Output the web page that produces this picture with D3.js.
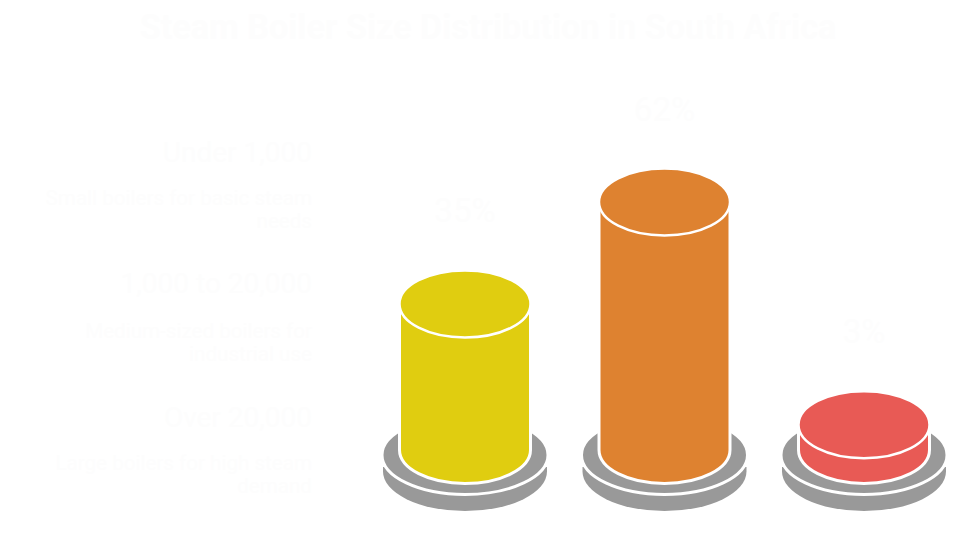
<!DOCTYPE html>
<html lang="en">
	<head>
		<meta charset="utf-8">
		<title>Steam Boiler Size Distribution in South Africa</title>
		<script type="text/javascript" src="https://cdn.jsdelivr.net/npm/d3@7"></script>
		<style type="text/css">
			html, body { margin: 0; padding: 0; background: #fff; }
			svg { display: block; }
			text { font-family: Roboto, sans-serif; fill: #fdfdfd; }
		</style>
	</head>
	<body>
		<script type="text/javascript">

			var categories = ["Under 1,000", "1,000 to 20,000", "Over 20,000"];
			var shares = [35, 62, 3];
			var colors = ["#e0cd10", "#de8230", "#e85a55"];
			var notes = [
				["Small boilers for basic steam", "needs"],
				["Medium-sized boilers for", "industrial use"],
				["Large boilers for high steam", "demand"]
			];
			var titleText = "Steam Boiler Size Distribution in South Africa";

			var w = 980;
			var h = 551;

			var rx = 65.5;
			var ry = 33.5;
			var baseY = 450;
			var discRx = 82;
			var discRy = 39.5;

			// left hand labels, the rows are not quite evenly spaced
			var labelY = d3.scaleOrdinal().domain(categories).range([162, 293, 427]);
			var noteGap = d3.scaleOrdinal().domain(categories).range([43, 45, 43]);

			var xScale = d3.scalePoint()
				.domain(categories)
				.range([465, 864]);

			var yScale = d3.scaleLinear()
				.domain([0, 62])
				.range([436, 202]);

			var svg = d3.select("body")
				.append("svg")
				.attr("width", w)
				.attr("height", h);

			svg.append("text")
				.attr("x", 488)
				.attr("y", 39)
				.attr("text-anchor", "middle")
				.attr("font-size", 34.2)
				.attr("font-weight", "bold")
				.text(titleText);

			// an upright drum: straight sides and a rounded bottom edge
			function drum(cx, top, bottom, a, b) {
				return "M" + (cx - a) + "," + top +
					"L" + (cx - a) + "," + bottom +
					"A" + a + "," + b + " 0 0 0 " + (cx + a) + "," + bottom +
					"L" + (cx + a) + "," + top + "Z";
			}

			var groups = svg.selectAll("g.boiler")
				.data(categories)
				.enter()
				.append("g")
				.attr("class", "boiler");

			// lower plate
			groups.append("path")
				.attr("d", function(d) { return drum(xScale(d), 467, 471.5, discRx, discRy); })
				.attr("fill", "#999");

			// upper plate, a bit wider because the stroke eats into it
			groups.append("ellipse")
				.attr("cx", function(d) { return xScale(d); })
				.attr("cy", 455)
				.attr("rx", discRx + 1)
				.attr("ry", discRy)
				.attr("fill", "#999")
				.attr("stroke", "#fff")
				.attr("stroke-width", 3);

			groups.append("path")
				.attr("d", function(d, i) { return drum(xScale(d), yScale(shares[i]), baseY, rx, ry); })
				.attr("fill", function(d, i) { return colors[i]; })
				.attr("stroke", "#fff")
				.attr("stroke-width", 3);

			groups.append("ellipse")
				.attr("cx", function(d) { return xScale(d); })
				.attr("cy", function(d, i) { return yScale(shares[i]); })
				.attr("rx", rx)
				.attr("ry", ry)
				.attr("fill", function(d, i) { return colors[i]; })
				.attr("stroke", "#fff")
				.attr("stroke-width", 2.5);

			groups.append("text")
				.attr("x", function(d) { return xScale(d); })
				.attr("y", function(d, i) { return yScale(shares[i]) - ry - 48; })
				.attr("text-anchor", "middle")
				.attr("font-size", 33)
				.text(function(d, i) { return shares[i] + "%"; });

			groups.append("text")
				.attr("x", 312)
				.attr("y", function(d) { return labelY(d); })
				.attr("text-anchor", "end")
				.attr("font-size", 28)
				.text(function(d) { return d; });

			groups.each(function(d, i) {
				var g = d3.select(this);
				notes[i].forEach(function(line, j) {
					g.append("text")
						.attr("x", 312)
						.attr("y", labelY(d) + noteGap(d) + j * 23)
						.attr("text-anchor", "end")
						.attr("font-size", 20.6)
						.text(line);
				});
			});

		</script>
	</body>
</html>
